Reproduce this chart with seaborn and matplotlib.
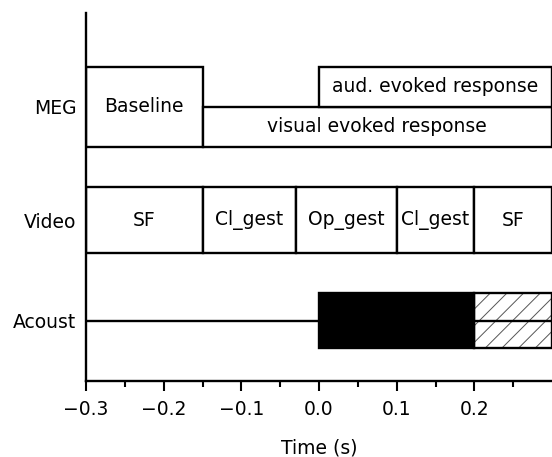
import matplotlib
matplotlib.use("Agg")
import matplotlib.pyplot as plt
import seaborn as sns
import pandas as pd

# ---- data ----
row_labels = ["MEG", "Video", "Acoust"]
row_tick_y = [274, 161, 60]

meg_names = ["Baseline", "visual evoked response", "aud. evoked response"]
meg_start = [-0.3, -0.15, 0.0]
meg_end = [-0.15, 0.3, 0.3]
meg_bottom = [234, 234, 274]
meg_top = [314, 274, 314]

video_names = ["SF", "Cl_gest", "Op_gest", "Cl_gest", "SF"]
video_edges = [-0.3, -0.15, -0.03, 0.1, 0.2, 0.3]
video_bottom, video_top = 128, 194

acoust_line_x = [-0.3, 0.3]
acoust_line_y = [60, 60]
sound_start, sound_end = 0.0, 0.2
tail_start, tail_end = 0.2, 0.3
acoust_bottom, acoust_top = 33, 88

x_ticks = [-0.3, -0.2, -0.1, 0.0, 0.1, 0.2]

# ---- style ----
sns.set_style("ticks")
plt.rcParams["font.family"] = ["DejaVu Sans"]
plt.rcParams["hatch.linewidth"] = 0.7
plt.rcParams["text.color"] = "black"
plt.rcParams["axes.labelcolor"] = "black"
plt.rcParams["xtick.color"] = "black"
plt.rcParams["ytick.color"] = "black"
FS = 13.5
LW = 1.7

fig = plt.figure(figsize=(5.52, 4.57), dpi=100)
ax = fig.add_axes([86 / 552, (457 - 381) / 457, (552 - 86) / 552, (381 - 13) / 457])

# MEG boxes
for n, s, e, b, t in zip(meg_names, meg_start, meg_end, meg_bottom, meg_top):
    ax.barh(b, e - s, height=t - b, left=s, align="edge", facecolor="white",
            edgecolor="black", linewidth=LW, zorder=2)
    ax.text((s + e) / 2, (b + t) / 2, n, ha="center", va="center", fontsize=FS,
            color="black", zorder=5)

# Video boxes
for i, n in enumerate(video_names):
    s, e = video_edges[i], video_edges[i + 1]
    ax.barh(video_bottom, e - s, height=video_top - video_bottom, left=s, align="edge",
            facecolor="white", edgecolor="black", linewidth=LW, zorder=2)
    ax.text((s + e) / 2, (video_bottom + video_top) / 2, n, ha="center", va="center",
            fontsize=FS, color="black", zorder=5)

# Acoustic
ax.barh(acoust_bottom, tail_end - tail_start, height=acoust_top - acoust_bottom, left=tail_start,
        align="edge", facecolor="white", edgecolor="#555555", hatch="//", linewidth=0, zorder=2)
df_line = pd.DataFrame({"x": acoust_line_x, "y": acoust_line_y})
sns.lineplot(data=df_line, x="x", y="y", color="black", linewidth=LW, ax=ax, zorder=3)
ax.barh(acoust_bottom, tail_end - tail_start, height=acoust_top - acoust_bottom, left=tail_start,
        align="edge", facecolor="none", edgecolor="black", linewidth=LW, zorder=4)
ax.barh(acoust_bottom, sound_end - sound_start, height=acoust_top - acoust_bottom, left=sound_start,
        align="edge", facecolor="black", edgecolor="black", linewidth=LW, zorder=4)

# axes
ax.set_xlim(-0.3, 0.3)
ax.set_ylim(0, 368)
ax.set_xticks(x_ticks)
ax.set_xticklabels([f"{v:.1f}".replace("-", "\u2212") for v in x_ticks], fontsize=FS)
ax.set_xticks([-0.25, -0.15, -0.05, 0.05, 0.15, 0.25], minor=True)
ax.tick_params(axis="x", which="major", direction="out", length=7, width=1.5, pad=7)
ax.tick_params(axis="x", which="minor", direction="out", length=4.5, width=1.5)
ax.set_yticks(row_tick_y)
ax.set_yticklabels(row_labels, fontsize=FS)
ax.tick_params(axis="y", length=0, pad=7)
ax.set_xlabel("Time (s)", fontsize=FS, labelpad=14)
ax.set_ylabel("")
for side in ["top", "right"]:
    ax.spines[side].set_visible(False)
for side in ["left", "bottom"]:
    ax.spines[side].set_linewidth(1.7)
    ax.spines[side].set_color("black")
ax.grid(False)

fig.savefig("out.png", dpi=100)
